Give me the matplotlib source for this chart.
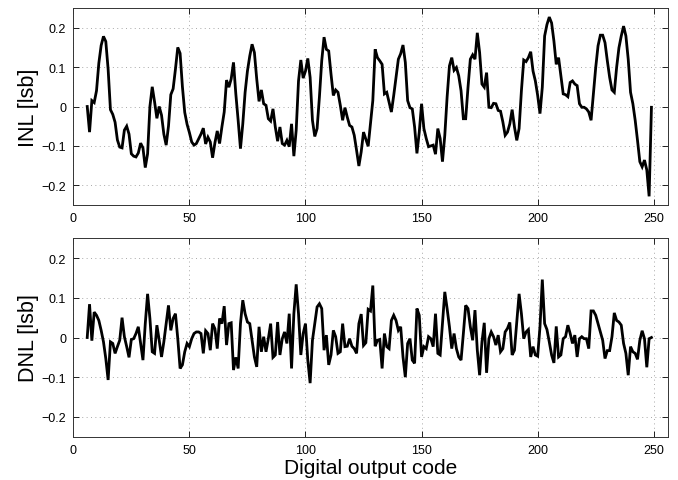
import numpy as np
import matplotlib
matplotlib.use("Agg")
import matplotlib.pyplot as plt

# Digital output codes 6..249
first_code = 6
inl_values = [
    0.0, -0.065, 0.015, 0.01,                                   # 6-9
    0.04, 0.11, 0.155, 0.178, 0.165, 0.095, -0.008, -0.02, -0.04, -0.085,   # 10-19
    -0.103, -0.105, -0.06, -0.05, -0.07, -0.12, -0.126, -0.128, -0.118, -0.093,  # 20-29
    -0.105, -0.155, -0.12, 0.0, 0.05, 0.012, -0.03, 0.0, -0.022, -0.07,   # 30-39
    -0.098, -0.05, 0.03, 0.045, 0.095, 0.15, 0.135, 0.05, -0.015, -0.045,  # 40-49
    -0.066, -0.09, -0.098, -0.094, -0.082, -0.07, -0.055, -0.095, -0.078, -0.09,  # 50-59
    -0.13, -0.092, -0.062, -0.094, -0.052, -0.014, 0.067, 0.049, 0.07, 0.112,  # 60-69
    0.032, -0.035, -0.107, -0.044, 0.036, 0.09, 0.128, 0.158, 0.137, 0.07,  # 70-79
    0.013, 0.042, 0.007, 0.003, -0.031, -0.037, -0.006, -0.052, -0.088, -0.052,  # 80-89
    -0.094, -0.098, -0.086, -0.102, -0.044, -0.126, -0.06, 0.065, 0.118, 0.072,  # 90-99
    0.09, 0.122, 0.074, -0.035, -0.076, -0.056, 0.024, 0.116, 0.176, 0.145,  # 100-109
    0.141, 0.082, 0.028, 0.042, 0.036, 0.003, -0.035, -0.003, -0.027, -0.048,  # 110-119
    -0.052, -0.073, -0.111, -0.151, -0.115, -0.065, -0.083, -0.101, -0.044, 0.015,  # 120-129
    0.145, 0.124, 0.116, 0.107, 0.032, 0.036, 0.011, -0.014, 0.028, 0.074,  # 130-139
    0.12, 0.134, 0.156, 0.112, 0.015, -0.003, -0.006, -0.052, -0.119, -0.065,  # 140-149
    0.007, -0.056, -0.081, -0.102, -0.1, -0.098, -0.121, -0.056, -0.081, -0.14,  # 150-159
    -0.073, 0.024, 0.103, 0.124, 0.092, 0.099, 0.078, 0.04, -0.031, -0.031,  # 160-169
    0.049, 0.12, 0.131, 0.12, 0.187, 0.137, 0.057, 0.049, 0.086, -0.002,  # 170-179
    -0.003, 0.008, 0.007, -0.01, -0.012, -0.039, -0.073, -0.065, -0.044, -0.008,  # 180-189
    -0.052, -0.086, -0.056, 0.04, 0.118, 0.114, 0.124, 0.139, 0.09, 0.065,  # 190-199
    0.028, -0.018, 0.049, 0.179, 0.208, 0.227, 0.212, 0.166, 0.107, 0.124,  # 200-209
    0.078, 0.032, 0.03, 0.025, 0.061, 0.065, 0.057, 0.053, 0.007, -0.002,  # 210-219
    -0.002, -0.006, -0.014, -0.035, 0.032, 0.099, 0.154, 0.181, 0.181, 0.162,  # 220-229
    0.116, 0.074, 0.042, 0.036, 0.099, 0.149, 0.179, 0.204, 0.179, 0.12,  # 230-239
    0.036, 0.007, -0.035, -0.086, -0.14, -0.153, -0.136, -0.161, -0.228, -0.002,  # 240-249
]

dnl_values = [
    0.0, 0.084, -0.008, 0.064,                                  # 6-9
    0.056, 0.043, 0.018, -0.011, -0.053, -0.107, -0.011, -0.015, -0.04, -0.023,  # 10-19
    -0.007, 0.05, 0.002, -0.023, -0.05, -0.005, -0.003, 0.01, 0.027, -0.015,  # 20-29
    -0.057, 0.035, 0.11, 0.048, -0.036, -0.04, 0.031, -0.007, -0.049, -0.011,  # 30-39
    0.035, 0.081, 0.018, 0.048, 0.06, -0.003, -0.078, -0.069, -0.036, -0.015,  # 40-49
    -0.023, -0.003, 0.01, 0.014, 0.014, 0.01, -0.04, 0.017, 0.01, -0.032,  # 50-59
    0.035, 0.022, -0.028, 0.048, 0.035, 0.079, -0.019, 0.035, 0.037, -0.082,  # 60-69
    -0.05, -0.078, 0.035, 0.094, 0.06, 0.039, 0.035, -0.007, -0.049, -0.074,  # 70-79
    0.027, -0.036, 0.002, -0.036, -0.003, 0.035, -0.05, -0.044, 0.039, -0.044,  # 80-89
    -0.003, 0.014, -0.015, 0.06, -0.078, 0.06, 0.134, 0.06, -0.044, 0.01,  # 90-99
    0.035, -0.057, -0.115, -0.007, 0.035, 0.077, 0.085, 0.073, -0.032, 0.006,  # 100-109
    -0.069, -0.044, 0.018, 0.002, -0.04, -0.036, 0.035, -0.023, -0.022, -0.003,  # 110-119
    -0.022, -0.028, -0.04, 0.035, 0.059, -0.02, -0.013, 0.071, 0.067, 0.131,  # 120-129
    -0.022, -0.007, -0.005, -0.078, 0.01, -0.023, -0.028, 0.043, 0.056, 0.043,  # 130-139
    0.018, 0.027, -0.049, -0.1, -0.015, -0.003, -0.057, -0.065, 0.073, 0.056,  # 140-149
    -0.049, -0.023, -0.028, 0.002, -0.003, -0.023, 0.06, -0.04, -0.044, 0.035,  # 150-159
    0.115, 0.073, 0.027, -0.028, 0.01, -0.028, -0.049, -0.057, 0.01, 0.081,  # 160-169
    0.073, 0.027, -0.007, 0.069, -0.032, -0.095, -0.011, 0.037, -0.089, -0.003,  # 170-179
    0.014, 0.002, -0.019, 0.006, -0.036, -0.028, 0.014, 0.023, 0.038, -0.044,  # 180-189
    -0.032, 0.04, 0.11, 0.06, -0.003, 0.014, 0.02, -0.049, -0.023, -0.044,  # 190-199
    -0.047, 0.027, 0.146, 0.035, 0.02, -0.011, -0.044, -0.064, 0.028, -0.049,  # 200-209
    -0.044, -0.003, 0.002, 0.031, 0.01, -0.015, 0.006, -0.049, -0.003, 0.002,  # 210-219
    -0.003, -0.003, -0.028, 0.067, 0.067, 0.056, 0.035, 0.014, -0.007, -0.053,  # 220-229
    -0.033, -0.033, 0.002, 0.062, 0.043, 0.039, 0.031, -0.015, -0.04, -0.095,  # 230-239
    -0.023, -0.036, -0.04, -0.055, -0.007, 0.017, -0.003, -0.075, -0.003, 0.0,  # 240-249
]

inl_codes = np.arange(first_code, first_code + len(inl_values))
dnl_codes = np.arange(first_code, first_code + len(dnl_values))

x_ticks = [0, 50, 100, 150, 200, 250]
y_ticks = [-0.2, -0.1, 0, 0.1, 0.2]
y_ticklabels = ["\u22120.2", "\u22120.1", "0", "0.1", "0.2"]

plt.rcParams['font.family'] = ['Liberation Sans', 'DejaVu Sans']

fig = plt.figure(figsize=(6.78, 4.81), dpi=100)
ax1 = fig.add_axes([0.1081, 0.5717, 0.8767, 0.4096])
ax2 = fig.add_axes([0.1081, 0.0900, 0.8767, 0.4125])

for ax, codes, vals, lab in [(ax1, inl_codes, inl_values, "INL [lsb]"),
                             (ax2, dnl_codes, dnl_values, "DNL [lsb]")]:
    ax.plot(codes, vals, color='black', lw=2.0, solid_joinstyle='miter')
    ax.set_xlim(0, 256)
    ax.set_ylim(-0.25, 0.25)
    ax.set_xticks(x_ticks)
    ax.set_yticks(y_ticks)
    ax.set_yticklabels(y_ticklabels)
    ax.tick_params(direction='in', top=True, right=True, length=4,
                   width=0.6, labelsize=9, colors='black', pad=5)
    ax.grid(True, color='#a8a8a8', linestyle=(0, (1, 3.5)), linewidth=0.7)
    for s in ax.spines.values():
        s.set_linewidth(0.7)
        s.set_color('#333333')
    ax.set_ylabel(lab, fontsize=15.5, labelpad=2)

ax2.set_xlabel("Digital output code", fontsize=15, labelpad=2)

fig.savefig("out.png", dpi=100)
